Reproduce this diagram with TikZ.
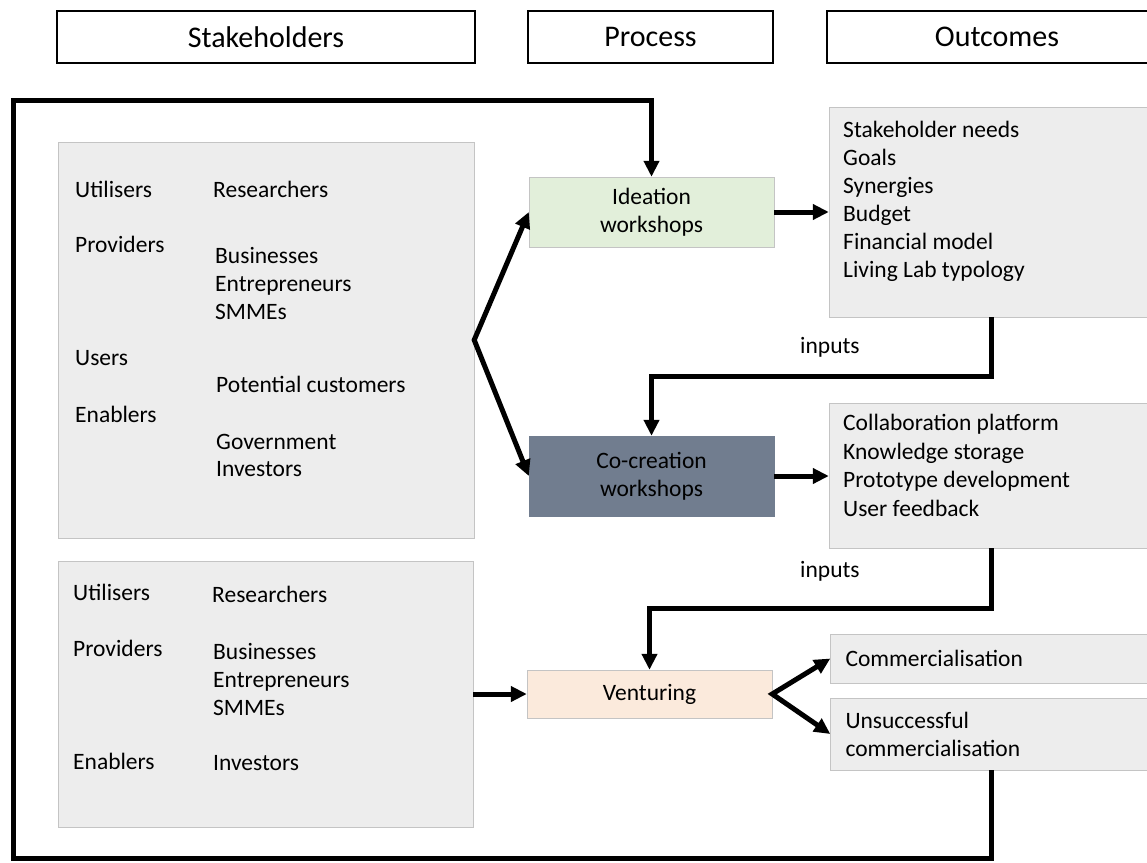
\documentclass[tikz,border=0pt]{standalone}
\usepackage{fontspec}
\setmainfont{Carlito}
\usetikzlibrary{arrows.meta,positioning}

\definecolor{boxgrey}{HTML}{EDEDED}
\definecolor{edgegrey}{HTML}{C4C4C4}
\definecolor{ideagreen}{HTML}{E2EFDA}
\definecolor{cocreate}{HTML}{717D8F}
\definecolor{ventpeach}{HTML}{FBEADC}

\begin{document}
\begin{tikzpicture}[x=1pt,y=-1pt,
    >={Triangle[length=16pt,width=15pt]},
    every node/.style={font=\fontsize{23.5}{28}\selectfont},
    head/.style={draw,line width=1.3pt,inner sep=0pt,minimum height=52pt,font=\fontsize{30}{36}\selectfont},
    panel/.style={draw=edgegrey,fill=boxgrey,inner sep=0pt},
    proc/.style={draw=edgegrey,inner sep=0pt,minimum width=245pt,align=center},
    item/.style={anchor=base west,inner sep=0pt},
    flow/.style={line width=5pt,->}]
  \useasboundingbox (0,0) rectangle (1147,862);

  % column headings
  \node[head,minimum width=418pt] (hstake) at (266,37) {Stakeholders};
  \node[head,minimum width=245pt] (hproc) at (650.5,37) {Process};
  \node[head,minimum width=340pt] (hout) at (997,37) {Outcomes};

  % stakeholder groups
  \node[panel,minimum width=416pt,minimum height=396pt] (groupA) at (266,340) {};
  \foreach \txt/\x/\y [count=\i] in {Utilisers/75/197, Researchers/213/197.5,
      Providers/75/252.5, Businesses/215/263.5, Entrepreneurs/215/291.5, SMMEs/215/319.5,
      Users/75/365.5, Potential customers/216/392.5,
      Enablers/75/422.5, Government/216/449.5, Investors/216/476.5}
    \node[item] (a\i) at (\x,\y) {\txt};

  \node[panel,minimum width=415pt,minimum height=266pt] (groupB) at (265.5,694) {};
  \foreach \txt/\x/\y [count=\i] in {Utilisers/73/600.5, Researchers/212/602.5,
      Providers/73/656.5, Businesses/213/659.5, Entrepreneurs/213/687.5, SMMEs/213/715.5,
      Enablers/73/769.5, Investors/213/770.5}
    \node[item] (b\i) at (\x,\y) {\txt};

  % process steps
  \node[proc,fill=ideagreen,minimum height=70pt] (idea) at (651.5,212) {Ideation\\workshops};
  \node[proc,fill=cocreate,draw=cocreate,minimum height=80pt] (cocr) at (651.5,476) {Co-creation\\workshops};
  \node[proc,fill=ventpeach,minimum height=48pt] (vent) at (649.5,694) {Venturing};

  % outcomes
  \node[panel,minimum width=331pt,minimum height=210pt] (outA) at (994.5,212) {};
  \foreach \txt [count=\i] in {Stakeholder needs, Goals, Synergies, Budget,
      Financial model, Living Lab typology}
    \node[item] (oa\i) at (843,109.5+28*\i) {\txt};

  \node[panel,minimum width=331pt,minimum height=145pt] (outB) at (994.5,475.5) {};
  \foreach \txt [count=\i] in {Collaboration platform, Knowledge storage,
      Prototype development, User feedback}
    \node[item] (ob\i) at (843,402+28.5*\i) {\txt};

  \node[panel,text width=300pt,inner xsep=15pt,minimum height=49pt,align=left] (comm) at (995.5,658.5) {Commercialisation};
  \node[panel,text width=300pt,inner xsep=15pt,minimum height=72pt,align=left] (fail) at (995.5,734) {Unsuccessful\\commercialisation};

  \node[item] (inA) at (800,353) {inputs};
  \node[item] (inB) at (800,577) {inputs};

  \coordinate (drop) at (991,0);
  \coordinate (bendA) at (991,376);
  \coordinate (bendB) at (991,608);
  \coordinate (loopBL) at (13,858.5);
  \coordinate (loopTL) at (13,100);

  \begin{scope}[flow]
    \draw[<->] (idea.west) -- (groupA.east) -- (cocr.west);
    \draw (idea.east) -- (idea.east -| outA.west);
    \draw (cocr.east) -- (cocr.east -| outB.west);
    \draw (outA.south -| bendA) -- (bendA) -| (cocr.north);
    \draw (outB.south -| bendB) -- (bendB) -| (vent.north);
    \draw (groupB.east) -- (vent.west);
    \draw[<->] (comm.west) -- (vent.east) -- (fail.west);
    \draw (fail.south -| drop) -- (loopBL -| drop) -- (loopBL) -- (loopTL) -| (idea.north);
  \end{scope}
\end{tikzpicture}
\end{document}
